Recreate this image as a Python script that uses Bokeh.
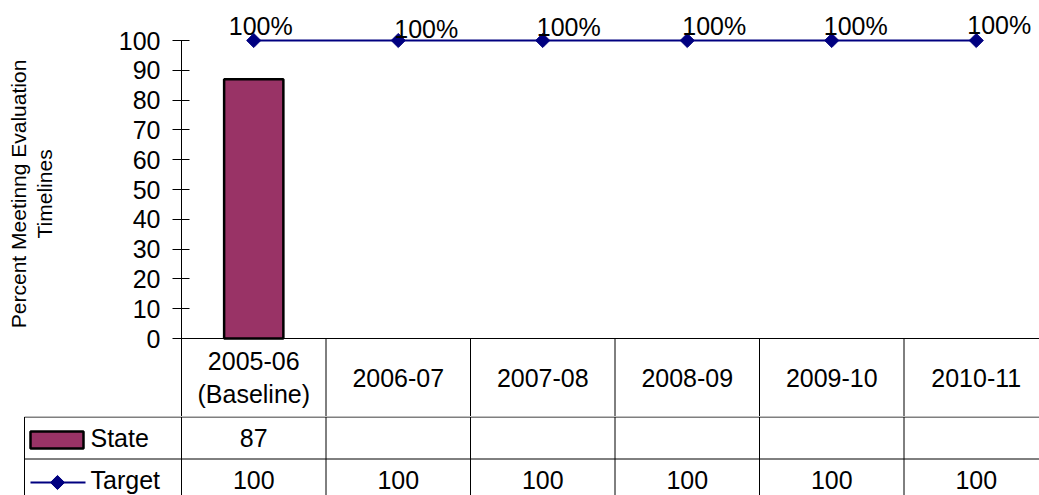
from bokeh.plotting import figure
from bokeh.models import Range1d, FixedTicker, ColumnDataSource
from bokeh.layouts import column
from bokeh.embed import file_html
from bokeh.resources import INLINE
from bokeh.core.properties import value

# ---------------- data ----------------
categories = ["2005-06\n(Baseline)", "2006-07", "2007-08", "2008-09", "2009-10", "2010-11"]
series_names = ["State", "Target"]
state_values = [87, None, None, None, None, None]
target_values = [100, 100, 100, 100, 100, 100]
y_ticks = [0, 10, 20, 30, 40, 50, 60, 70, 80, 90, 100]
y_title_lines = ["Percent Meetinng Evaluation", "Timelines"]

# ---------------- style / layout ----------------
FONT = "Liberation Sans"
BAR = "#993366"
NAVY = "#000080"
PAGE_W = 1039
TOP_H = 416           # chart + header row of the data table
BOT_H = 79            # State / Target rows
LEFT = 181            # frame left (y axis position)
CAT_PX = 144.5        # pixels per category
PX_PER_UNIT = 2.98    # pixels per percent
ZERO_PX = 338         # page y of value 0
PAD = "\u00a0" * 5    # keeps the rotated title centred on the 0-100 span
label_dx = [7, 28, 26, 27, 24, 23]         # data-label offsets (px)
label_dy = [-15, -12, -14, -15, -15, -16]

frame_w = PAGE_W - LEFT
x_end = frame_w / CAT_PX
y_end = ZERO_PX / PX_PER_UNIT
y_start = -(TOP_H - ZERO_PX) / PX_PER_UNIT

n = len(categories)
xs = [i + 0.5 for i in range(n)]

def px_x(page_x):
    return (page_x - LEFT) / CAT_PX

# ---------------- top chart ----------------
top = figure(width=PAGE_W, height=TOP_H, x_range=Range1d(0, x_end), y_range=Range1d(y_start, y_end),
             output_backend="svg", toolbar_location=None, x_axis_location=None,
             min_border_left=LEFT, min_border_right=0, min_border_top=0, min_border_bottom=0,
             frame_align=False)
top.xgrid.visible = False
top.ygrid.visible = False
top.outline_line_color = None

ax = top.yaxis[0]
ax.ticker = FixedTicker(ticks=y_ticks)
ax.bounds = (y_start, 100)
ax.minor_tick_line_color = None
ax.major_tick_in = 8
ax.major_tick_out = 9
ax.axis_line_color = "black"
ax.major_tick_line_color = "black"
ax.major_label_text_font = FONT
ax.major_label_text_font_size = "25px"
ax.major_label_text_color = "black"
ax.major_label_standoff = 12
ax.axis_label = "\n".join(PAD + line for line in y_title_lines)
ax.axis_label_text_font = FONT
ax.axis_label_text_font_size = "21px"
ax.axis_label_text_font_style = "normal"
ax.axis_label_text_color = "black"
ax.axis_label_text_line_height = 1.1
ax.axis_label_standoff = 60

src = ColumnDataSource(dict(
    x=xs,
    state=[float("nan") if v is None else v for v in state_values],
    target=target_values,
    label=[f"{v}%" for v in target_values],
    dx=label_dx,
    dy=label_dy,
))

top.vbar(x="x", top="state", width=0.41, source=src, fill_color=BAR, line_color="black", line_width=2.5)
top.line(x="x", y="target", source=src, line_color=NAVY, line_width=2)
top.scatter(x="x", y="target", source=src, marker="square", angle=0.7854, size=10,
            fill_color=NAVY, line_color=NAVY)
top.text(x="x", y="target", text="label", source=src, x_offset="dx", y_offset="dy",
         text_align="center", text_baseline="alphabetic",
         text_font=value(FONT), text_font_size="25px", text_color="black")

# header row of the data table (category labels)
top.segment(x0=[0], y0=[0], x1=[x_end + 1], y1=[0], line_color="black", line_width=1)
vx_top = list(range(1, n + 1))
top.segment(x0=vx_top, y0=[0] * len(vx_top), x1=vx_top, y1=[y_start - 5] * len(vx_top),
            line_color="black", line_width=1)
top.text(x=xs, y=[y_start / 2] * n, text=categories, text_align="center", text_baseline="middle",
         text_font=value(FONT), text_font_size="25px", text_color="black", text_line_height=1.2)

# ---------------- data table rows ----------------
bot = figure(width=PAGE_W, height=BOT_H, x_range=Range1d(-LEFT / CAT_PX, x_end), y_range=Range1d(-BOT_H, 0),
             output_backend="svg", toolbar_location=None, x_axis_location=None, y_axis_location=None,
             min_border_left=0, min_border_right=0, min_border_top=0, min_border_bottom=0,
             frame_align=False)
bot.xgrid.visible = False
bot.ygrid.visible = False
bot.outline_line_color = None

ROW_H = 42
leg_left = px_x(24)
row_tops = [-0.5, -ROW_H - 0.5]
bot.segment(x0=[leg_left] * 2, y0=row_tops, x1=[x_end + 1] * 2, y1=row_tops, line_color="black", line_width=1)
vx = [leg_left] + list(range(n + 1))
bot.segment(x0=vx, y0=[-0.5] * len(vx), x1=vx, y1=[-BOT_H - 10] * len(vx), line_color="black", line_width=1)

state_y = -ROW_H / 2
target_y = -ROW_H * 1.5

bot.text(x=xs, y=[state_y] * n, text=["" if v is None else str(v) for v in state_values],
         text_align="center", text_baseline="middle",
         text_font=value(FONT), text_font_size="25px", text_color="black")
bot.text(x=xs, y=[target_y] * n, text=[str(v) for v in target_values],
         text_align="center", text_baseline="middle",
         text_font=value(FONT), text_font_size="25px", text_color="black")

# legend keys inside the table
bot.rect(x=[px_x(56.5)], y=[state_y - 2.5], width=53 / CAT_PX, height=17, fill_color=BAR,
         line_color="black", line_width=2.5)
bot.line(x=[px_x(30), px_x(85)], y=[target_y - 3, target_y - 3], line_color=NAVY, line_width=2)
bot.scatter(x=[px_x(57)], y=[target_y - 3], marker="square", angle=0.7854, size=10,
            fill_color=NAVY, line_color=NAVY)
bot.text(x=[px_x(90)] * 2, y=[state_y, target_y], text=series_names, text_align="left",
         text_baseline="middle", text_font=value(FONT), text_font_size="25px", text_color="black")

layout = column(top, bot, spacing=0)
open("out.html", "w").write(file_html(layout, INLINE))
